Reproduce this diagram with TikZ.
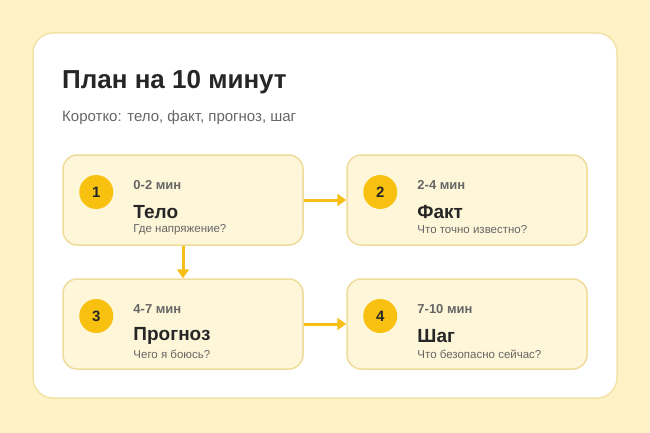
\documentclass[tikz,border=0pt]{standalone}
\usepackage{fontspec}
\setmainfont{Liberation Sans}
\usetikzlibrary{positioning,arrows.meta}
\definecolor{bgyellow}{HTML}{FEF3C6}
\definecolor{cardline}{HTML}{F3E3A6}
\definecolor{stepfill}{HTML}{FEF6D9}
\definecolor{stepline}{HTML}{F0DC9A}
\definecolor{badge}{HTML}{F8C10F}
\definecolor{arrowc}{HTML}{F7BE16}
\definecolor{darktext}{HTML}{262626}
\definecolor{graytext}{HTML}{666666}
\tikzset{
  stepbox/.style={draw=stepline, line width=1.5pt, fill=stepfill, rounded corners=14pt,
    minimum width=240pt, minimum height=90pt},
  numdot/.style={circle, fill=badge, minimum size=34pt, inner sep=0pt,
    font=\fontsize{15}{15}\selectfont\bfseries, text=darktext},
  timelbl/.style={anchor=west, inner sep=0pt, font=\fontsize{13}{13}\selectfont\bfseries, text=graytext},
  headlbl/.style={anchor=west, inner sep=0pt, font=\fontsize{19}{19}\selectfont\bfseries, text=darktext},
  sublbl/.style={anchor=west, inner sep=0pt, font=\fontsize{11.5}{11.5}\selectfont, text=graytext},
  flow/.style={draw=arrowc, line width=3pt, -{Triangle[length=9pt,width=12pt]}}
}
\begin{document}
\begin{tikzpicture}[x=1pt, y=-1pt]
    % background and card
    \fill[bgyellow] (0,0) rectangle (650,433);
    \useasboundingbox (0,0) rectangle (650,433);
    \draw[cardline, line width=1.5pt, fill=white, rounded corners=20pt] (33,33) rectangle (617,398);
    \node[anchor=west, inner sep=0pt, font=\fontsize{26}{26}\selectfont\bfseries, text=darktext] (title) at (62,82) {План на 10 минут};
    \node[anchor=west, inner sep=0pt, font=\fontsize{15}{15}\selectfont, text=graytext] (subtitle) at (62,118) {Коротко: тело, факт, прогноз, шаг};
    % Place steps
    \node[stepbox] (step1) at (183,200) {};
    \node[stepbox] (step2) at (467,200) {};
    \node[stepbox] (step3) at (183,324) {};
    \node[stepbox] (step4) at (467,324) {};
    \foreach \s/\n/\t/\h/\q in {step1/1/0-2 мин/Тело/Где напряжение?,
                                step2/2/2-4 мин/Факт/Что точно известно?,
                                step3/3/4-7 мин/Прогноз/Чего я боюсь?,
                                step4/4/7-10 мин/Шаг/Что безопасно сейчас?}{
        \node[numdot] (\s-num) at ([xshift=34pt,yshift=8pt]\s.west) {\n};
        \node[timelbl] (\s-time) at ([xshift=71pt,yshift=15pt]\s.west) {\t};
        \node[headlbl] (\s-head) at ([xshift=71pt,yshift=-12pt]\s.west) {\h};
        \node[sublbl] (\s-sub) at ([xshift=71pt,yshift=-30pt]\s.west) {\q};
    }
    % Connectors
    \draw[flow] (step1.east) -- (step2.west);
    \draw[flow] (step1.south) -- (step3.north);
    \draw[flow] (step3.east) -- (step4.west);
\end{tikzpicture}
\end{document}
